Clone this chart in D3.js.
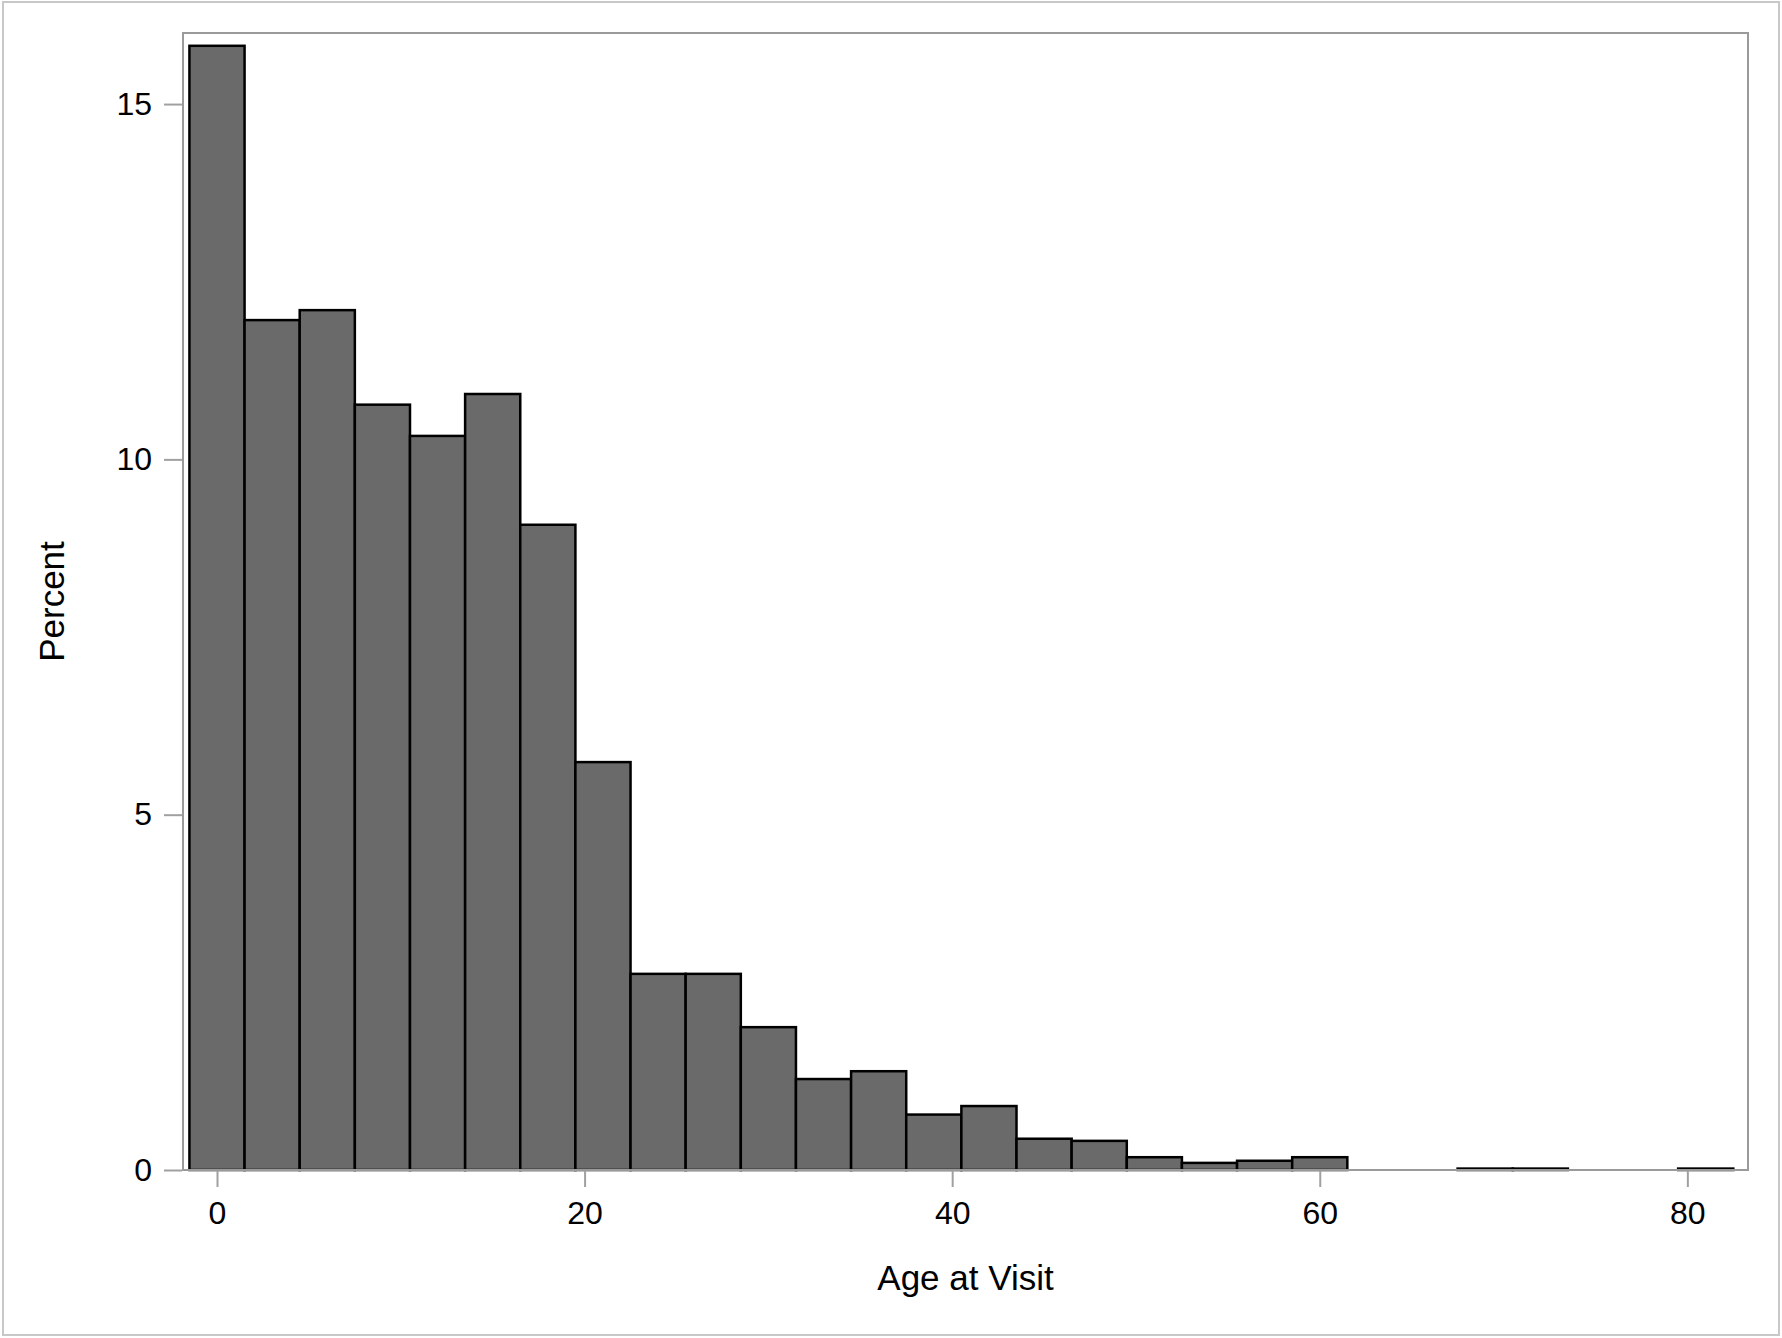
<!DOCTYPE html>
<html lang="en">
	<head>
		<meta charset="utf-8">
		<title>Age at Visit histogram</title>
		<script src="https://d3js.org/d3.v7.min.js"></script>
		<style>
			body { margin: 0; background: #fff; }
			text { font-family: "Liberation Sans", Arial, sans-serif; fill: #000; }
		</style>
	</head>
	<body>
		<script type="text/javascript">

			// canvas
			var w = 1782;
			var h = 1338;

			// plot frame (avoid "top" - it's window.top)
			var frameL = 183, frameR = 1748, frameT = 33, frameB = 1170;

			// histogram data: bin midpoints (width 3) and percent
			var binWidth = 3;
			var binMids = [0, 3, 6, 9, 12, 15, 18, 21, 24, 27, 30, 33, 36, 39,
				42, 45, 48, 51, 54, 57, 60, 63, 66, 69, 72, 75, 78, 81];
			var percent = [15.82, 11.96, 12.10, 10.77, 10.33, 10.92, 9.08, 5.74, 2.76, 2.76,
				2.01, 1.28, 1.39, 0.78, 0.90, 0.44, 0.41, 0.18, 0.10, 0.13,
				0.18, 0, 0, 0.02, 0.02, 0, 0, 0.02];

			// ticks
			var xTicks = [0, 20, 40, 60, 80];
			var yTicks = [0, 5, 10, 15];

			var xScale = d3.scaleLinear()
				.domain([-1.85, 83.3])
				.range([frameL, frameR]);

			var yScale = d3.scaleLinear()
				.domain([0, 16])
				.range([frameB, frameT]);

			var svg = d3.select("body").append("svg")
				.attr("width", w).attr("height", h);

			// outer border
			svg.append("rect")
				.attr("x", 3).attr("y", 2)
				.attr("width", w - 6).attr("height", h - 5)
				.attr("fill", "none").attr("stroke", "#c8c8c8").attr("stroke-width", 2);

			// bars
			svg.selectAll("rect.bar")
				.data(binMids)
				.enter()
				.append("rect")
				.attr("class", "bar")
				.attr("x", function(d) { return xScale(d - binWidth / 2); })
				.attr("width", function(d) { return xScale(d + binWidth / 2) - xScale(d - binWidth / 2); })
				.attr("y", function(d, i) { return yScale(percent[i]); })
				.attr("height", function(d, i) { return yScale(0) - yScale(percent[i]); })
				.attr("fill", "#6a6a6a")
				.attr("stroke", "#000")
				.attr("stroke-width", 2.5);

			// frame
			svg.append("rect")
				.attr("x", frameL).attr("y", frameT)
				.attr("width", frameR - frameL).attr("height", frameB - frameT)
				.attr("fill", "none").attr("stroke", "#9a9a9a").attr("stroke-width", 2);

			// axes
			var xAxis = d3.axisBottom(xScale).tickValues(xTicks).tickSize(16).tickPadding(14);
			var yAxis = d3.axisLeft(yScale).tickValues(yTicks).tickSize(18).tickPadding(12);

			var gx = svg.append("g")
				.attr("transform", "translate(0," + (frameB + 1) + ")")
				.call(xAxis);
			var gy = svg.append("g")
				.attr("transform", "translate(" + (frameL - 1) + ",0)")
				.call(yAxis);

			[gx, gy].forEach(function(g) {
				g.select(".domain").remove();
				g.selectAll(".tick line").attr("stroke", "#a0a0a0").attr("stroke-width", 2);
				g.selectAll(".tick text")
					.style("font-family", "'Liberation Sans', Arial, sans-serif")
					.style("font-size", "32px")
					.attr("fill", "#000");
			});

			// axis labels
			svg.append("text")
				.attr("x", (frameL + frameR) / 2)
				.attr("y", 1290)
				.attr("text-anchor", "middle")
				.style("font-size", "35px")
				.text("Age at Visit");

			svg.append("text")
				.attr("transform", "translate(64," + ((frameT + frameB) / 2) + ") rotate(-90)")
				.attr("text-anchor", "middle")
				.style("font-size", "35px")
				.text("Percent");

		</script>
	</body>
</html>
